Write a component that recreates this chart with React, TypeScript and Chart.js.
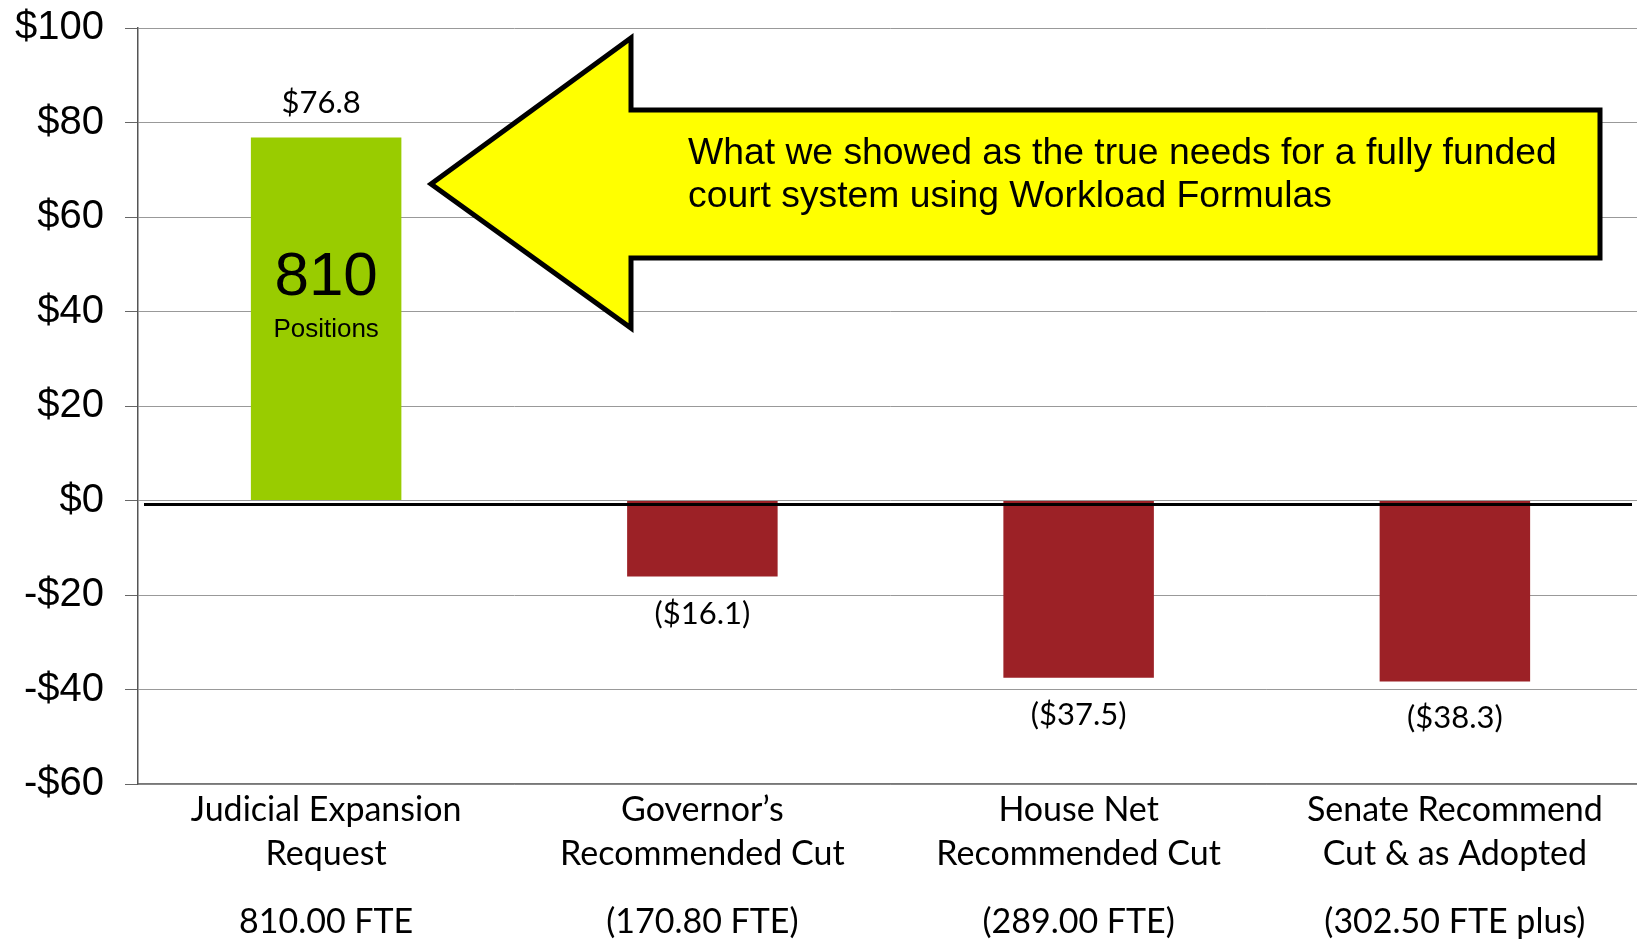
import React, { useEffect, useRef } from "react";
import { Chart, registerables } from "chart.js";

Chart.register(...registerables);

const categories: string[][] = [
  ["Judicial Expansion", "Request"],
  ["Governor\u2019s", "Recommended Cut"],
  ["House Net", "Recommended Cut"],
  ["Senate Recommend", "Cut & as Adopted"],
];
const fteLabels: string[] = ["810.00 FTE", "(170.80 FTE)", "(289.00 FTE)", "(302.50 FTE plus)"];
const values: number[] = [76.8, -16.1, -37.5, -38.3];
const valueLabels: string[] = ["$76.8", "($16.1)", "($37.5)", "($38.3)"];
const barColors: string[] = ["#99CC00", "#9C2126", "#9C2126", "#9C2126"];
const yMin = -60;
const yMax = 100;
const yStep = 20;
const insideBigText = "810";
const insideSmallText = "Positions";
const calloutLines: string[] = [
  "What we showed as the true needs for a fully funded",
  "court system using Workload Formulas",
];

const W = 1637;
const H = 939;
const CANVAS_W = 1643;

const labelsPlugin = {
  id: "customLabels",
  afterDatasetsDraw(chart: any) {
    const ctx = chart.ctx;
    const meta = chart.getDatasetMeta(0);
    const yScale = chart.scales.y;
    const area = chart.chartArea;

    // zero line (thick black, slightly below gridline)
    const z = yScale.getPixelForValue(0) + 4;
    ctx.save();
    ctx.strokeStyle = "#000";
    ctx.lineWidth = 3;
    ctx.beginPath();
    ctx.moveTo(area.left + 6, z);
    ctx.lineTo(area.right - 11, z);
    ctx.stroke();
    ctx.restore();

    // value labels
    ctx.save();
    ctx.fillStyle = "#000";
    ctx.textAlign = "center";
    ctx.textBaseline = "middle";
    ctx.font = "31px Lato, 'Open Sans', sans-serif";
    meta.data.forEach((bar: any, i: number) => {
      const v = values[i];
      const y = v >= 0 ? bar.y - 35 : bar.y + 37;
      ctx.fillText(valueLabels[i], bar.x - (v >= 0 ? 5 : 0), y);
    });

    // inside text for first bar
    const b0 = meta.data[0];
    ctx.font = "62px 'Liberation Sans', Arial, sans-serif";
    ctx.fillText(insideBigText, b0.x, b0.y + 140);
    ctx.font = "26px 'Liberation Sans', Arial, sans-serif";
    ctx.fillText(insideSmallText, b0.x, b0.y + 192);
    ctx.restore();

    // callout arrow
    ctx.save();
    ctx.beginPath();
    ctx.moveTo(431, 184);
    ctx.lineTo(631, 38);
    ctx.lineTo(631, 110);
    ctx.lineTo(1600, 110);
    ctx.lineTo(1600, 258);
    ctx.lineTo(631, 258);
    ctx.lineTo(631, 328);
    ctx.closePath();
    ctx.fillStyle = "#FFFF00";
    ctx.fill();
    ctx.lineWidth = 5;
    ctx.lineJoin = "miter";
    ctx.strokeStyle = "#000";
    ctx.stroke();
    ctx.fillStyle = "#000";
    ctx.font = "37.3px 'Liberation Sans', Arial, sans-serif";
    ctx.textAlign = "left";
    ctx.textBaseline = "middle";
    ctx.fillText(calloutLines[0], 688, 154);
    ctx.fillText(calloutLines[1], 688, 197);
    ctx.restore();
  },
};

export default function App() {
  const ref = useRef<HTMLCanvasElement | null>(null);
  useEffect(() => {
    if (!ref.current) return;
    const chart = new Chart(ref.current, {
      type: "bar",
      data: {
        labels: categories as any,
        datasets: [
          {
            data: values,
            backgroundColor: barColors,
            borderWidth: 0,
            barPercentage: 0.4,
            categoryPercentage: 1.0,
            xAxisID: "x",
          },
        ],
      },
      options: {
        animation: false,
        responsive: false,
        devicePixelRatio: 1,
        layout: { padding: { top: 28, right: 0, bottom: 0, left: 0 } },
        plugins: {
          legend: { display: false },
          tooltip: { enabled: false },
          title: { display: false },
        },
        scales: {
          x: {
            type: "category",
            position: "bottom",
            grid: { display: false },
            border: { display: true, color: "#777", width: 1.5 },
            ticks: {
              color: "#000",
              font: { family: "Lato, 'Open Sans', sans-serif", size: 34, lineHeight: "44px" },
              padding: -4,
              maxRotation: 0,
              minRotation: 0,
              autoSkip: false,
            },
            afterFit(scale: any) {
              scale.height = 91;
              scale.paddingLeft = 0;
              scale.paddingRight = 0;
            },
          },
          x2: {
            type: "category",
            position: "bottom",
            labels: fteLabels,
            grid: { display: false },
            border: { display: false },
            ticks: {
              color: "#000",
              font: { family: "Lato, 'Open Sans', sans-serif", size: 34, lineHeight: "44px" },
              padding: 17,
              maxRotation: 0,
              minRotation: 0,
              autoSkip: false,
            },
            afterFit(scale: any) {
              scale.height = 64;
              scale.paddingLeft = 0;
              scale.paddingRight = 0;
            },
          },
          y: {
            min: yMin,
            max: yMax,
            grid: { color: "#999", lineWidth: 1, tickLength: 13, tickColor: "#666" },
            border: { display: true, color: "#555", width: 1.5 },
            ticks: {
              stepSize: yStep,
              color: "#000",
              padding: 21,
              font: { family: "'Liberation Sans', Arial, sans-serif", size: 40 },
              callback: (v: any) => (Number(v) < 0 ? `-$${-Number(v)}` : `$${v}`),
            },
            afterFit(scale: any) {
              scale.width = 138;
              scale.paddingTop = 0;
              scale.paddingBottom = 0;
            },
          },
        },
      },
      plugins: [labelsPlugin],
    });
    return () => chart.destroy();
  }, []);
  return (
    <div
      style={{
        position: "absolute",
        left: 0,
        top: 0,
        width: W,
        height: H,
        overflow: "hidden",
        background: "#fff",
      }}
    >
      <canvas
        ref={ref}
        width={CANVAS_W}
        height={H}
        style={{ width: CANVAS_W, height: H, display: "block" }}
      />
    </div>
  );
}
